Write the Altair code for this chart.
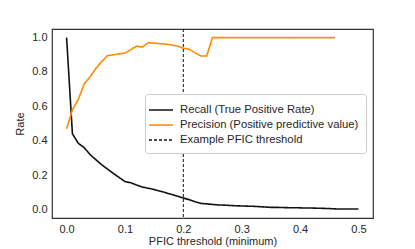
import altair as alt
import pandas as pd

thr_recall = [round(i * 0.01, 2) for i in range(51)]
recall = [1.0, 0.44, 0.385, 0.36, 0.32, 0.29, 0.26, 0.235, 0.21, 0.186,
          0.162, 0.155, 0.142, 0.13, 0.123, 0.116, 0.106, 0.097, 0.087, 0.077,
          0.066, 0.057, 0.045, 0.035, 0.032, 0.029, 0.026, 0.025, 0.023, 0.021,
          0.02, 0.019, 0.018, 0.016, 0.014, 0.012, 0.012, 0.011, 0.01, 0.01,
          0.009, 0.008, 0.008, 0.007, 0.006, 0.005, 0.003, 0.002, 0.002, 0.002, 0.002]

thr_precision = [round(i * 0.01, 2) for i in range(47)]
precision = [0.47, 0.58, 0.64, 0.73, 0.77, 0.82, 0.86, 0.895, 0.90, 0.905,
             0.91, 0.93, 0.95, 0.945, 0.97, 0.968, 0.965, 0.962, 0.957, 0.95,
             0.938, 0.932, 0.912, 0.893, 0.893, 1.0, 1.0, 1.0, 1.0, 1.0,
             1.0, 1.0, 1.0, 1.0, 1.0, 1.0, 1.0, 1.0, 1.0, 1.0,
             1.0, 1.0, 1.0, 1.0, 1.0, 1.0, 1.0]

threshold = [0.2]

series = ["Recall (True Positive Rate)", "Precision (Positive predictive value)", "Example PFIC threshold"]
colors = ["#111111", "#ff8c00", "#111111"]
dashes = [[1, 0], [1, 0], [3, 2]]

df = pd.concat([
    pd.DataFrame({"t": thr_recall, "v": recall, "s": series[0]}),
    pd.DataFrame({"t": thr_precision, "v": precision, "s": series[1]}),
])
df_thr = pd.DataFrame({"t": threshold, "s": series[2]})

color = alt.Color("s:N", scale=alt.Scale(domain=series, range=colors),
                  legend=alt.Legend(title=None, orient="none", legendX=93, legendY=65,
                                    symbolType="M-1.5,0H1.5", symbolSize=256, symbolStrokeWidth=1.6,
                                    symbolFillColor="transparent",
                                    labelFontSize=11.3, labelColor="#262626", labelFont="Liberation Sans",
                                    padding=7, rowPadding=0, fillColor="white", strokeColor="#cccccc",
                                    cornerRadius=3, labelLimit=300, labelOffset=10))
dash = alt.StrokeDash("s:N", scale=alt.Scale(domain=series, range=dashes), legend=None)

x = alt.X("t:Q", title="PFIC threshold (minimum)",
          scale=alt.Scale(domain=[-0.025, 0.525], nice=False, zero=False),
          axis=alt.Axis(values=[0, 0.1, 0.2, 0.3, 0.4, 0.5], format=".1f"))

lines = alt.Chart(df).mark_line(strokeWidth=1.6, clip=True).encode(
    x=x,
    y=alt.Y("v:Q", title="Rate", scale=alt.Scale(domain=[-0.05, 1.05], nice=False, zero=False),
            axis=alt.Axis(values=[0, 0.2, 0.4, 0.6, 0.8, 1.0], format=".1f")),
    color=color,
    strokeDash=dash,
    order="t:Q",
)

rule = alt.Chart(df_thr).mark_rule(strokeWidth=1).encode(
    x=alt.X("t:Q"),
    color=color,
    strokeDash=dash,
)

chart = alt.layer(lines, rule).properties(
    width=321, height=189,
    autosize=alt.AutoSizeParams(type="none"),
    padding={"left": 44, "top": 21, "right": 30, "bottom": 30},
).configure_view(stroke="#333333", strokeWidth=1.2).configure_axis(
    grid=False, ticks=False, domain=False, labelPadding=5,
    labelFont="Liberation Sans", labelFontSize=11, labelColor="#262626",
    titleFont="Liberation Sans", titleFontSize=11, titleColor="#262626", titleFontWeight="normal",
).configure_axisY(titlePadding=6).configure_axisX(titlePadding=1)

chart.save("out.html", embed_options={"renderer": "svg", "actions": False})
